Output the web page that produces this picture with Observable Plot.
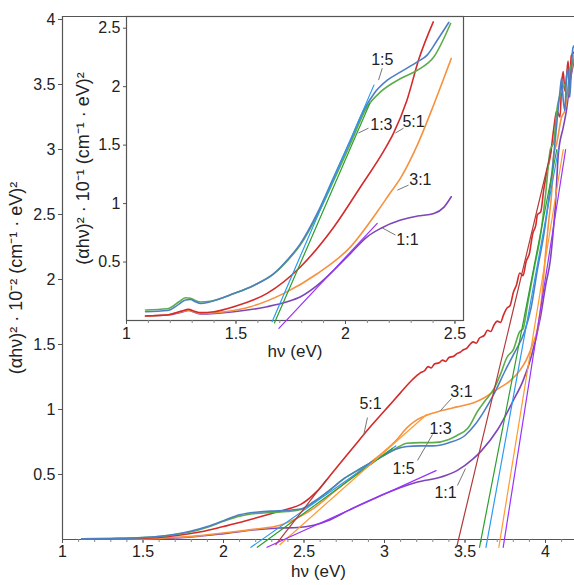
<!DOCTYPE html>
<html><head><meta charset="utf-8">
<script src="https://cdn.jsdelivr.net/npm/d3@7"></script>
<script src="https://cdn.jsdelivr.net/npm/@observablehq/plot@0.6"></script>
<style>
body{margin:0;background:#fff;}
#wrap{position:relative;width:574px;height:585px;overflow:hidden;}
#wrap svg{position:absolute;left:0;top:0;}
</style></head><body><div id="wrap"></div>
<script>
// ---------- Series names / colours ----------
const seriesNames = ["1:1", "3:1", "5:1", "1:3", "1:5"];
const curveColors = {"1:1": "#7d45b8", "3:1": "#f7913d", "5:1": "#d42a2a", "1:3": "#5cad4a", "1:5": "#4d7fc4"};
const fitColors   = {"1:1": "#9b30ff", "3:1": "#ff9a2e", "5:1": "#b33a3a", "1:3": "#2e9e2e", "1:5": "#2b9bf0"};

// ---------- Main chart: (αhν)^2 ·10^-2 vs hν ----------
const main_11 = [[1.12,0.002],[1.5,0.005],[1.8,0.02],[2.0,0.045],[2.2,0.075],[2.35,0.088],[2.46,0.092],[2.56,0.11],[2.66,0.15],[2.77,0.22],[2.89,0.29],[2.98,0.34],[3.1,0.4],[3.2,0.44],[3.35,0.48],[3.45,0.53],[3.55,0.62],[3.6,0.68],[3.7,0.84],[3.8,1.07],[3.86,1.22],[3.91,1.4],[3.97,1.72],[4.0,1.95],[4.03,2.15],[4.05,2.4],[4.06,2.55],[4.08,2.97],[4.11,3.17],[4.13,3.3],[4.15,3.5],[4.18,3.7]];
const main_31 = [[1.12,0.002],[1.5,0.005],[1.7,0.015],[1.86,0.03],[2.0,0.05],[2.2,0.08],[2.35,0.11],[2.48,0.18],[2.56,0.24],[2.68,0.36],[2.77,0.45],[2.89,0.57],[3.0,0.68],[3.07,0.76],[3.14,0.86],[3.2,0.92],[3.27,0.96],[3.35,0.99],[3.45,1.02],[3.55,1.05],[3.62,1.09],[3.68,1.14],[3.72,1.17],[3.78,1.22],[3.84,1.3],[3.88,1.38],[3.92,1.5],[3.95,1.62],[3.98,1.9],[4.0,2.2],[4.02,2.45],[4.04,2.7],[4.05,2.95],[4.07,3.05],[4.1,3.25],[4.12,3.3],[4.14,3.45],[4.16,3.6],[4.18,3.75]];
const main_51 = [[1.12,0.003],[1.3,0.005],[1.5,0.01],[1.7,0.03],[1.86,0.06],[2.0,0.1],[2.1,0.13],[2.2,0.165],[2.3,0.2],[2.4,0.235],[2.48,0.27],[2.58,0.37],[2.68,0.52],[2.8,0.7],[2.9,0.85],[3.0,0.99],[3.05,1.06],[3.1,1.13],[3.15,1.2],[3.2,1.26],[3.22,1.28],[3.25,1.3],[3.27,1.33],[3.29,1.32],[3.31,1.35],[3.34,1.36],[3.36,1.38],[3.38,1.37],[3.4,1.4],[3.43,1.41],[3.45,1.43],[3.47,1.44],[3.49,1.46],[3.51,1.47],[3.53,1.5],[3.55,1.52],[3.57,1.51],[3.59,1.55],[3.62,1.57],[3.64,1.61],[3.66,1.6],[3.68,1.65],[3.7,1.68],[3.72,1.67],[3.74,1.73],[3.76,1.78],[3.78,1.8],[3.8,1.9],[3.82,1.96],[3.84,2.05],[3.86,2.03],[3.88,2.14],[3.9,2.2],[3.92,2.35],[3.94,2.42],[3.95,2.5],[3.97,2.52],[3.99,2.7],[4.01,2.84],[4.03,2.95],[4.05,3.15],[4.07,3.3],[4.09,3.25],[4.1,3.5],[4.11,3.6],[4.12,3.45],[4.13,3.55],[4.14,3.68],[4.15,3.5],[4.16,3.72],[4.18,3.75]];
const main_13 = [[1.12,0.006],[1.3,0.008],[1.5,0.015],[1.7,0.038],[1.8,0.06],[1.9,0.095],[2.0,0.14],[2.1,0.18],[2.2,0.2],[2.3,0.208],[2.4,0.215],[2.48,0.23],[2.56,0.285],[2.66,0.38],[2.75,0.47],[2.83,0.53],[2.9,0.58],[3.0,0.65],[3.07,0.7],[3.14,0.74],[3.22,0.745],[3.3,0.745],[3.4,0.77],[3.45,0.8],[3.52,0.86],[3.58,0.99],[3.62,1.06],[3.68,1.16],[3.72,1.27],[3.76,1.4],[3.8,1.46],[3.84,1.6],[3.86,1.62],[3.89,1.82],[3.93,2.09],[3.97,2.35],[4.0,2.65],[4.03,3.0],[4.05,3.05],[4.07,3.3],[4.1,3.45],[4.12,3.5],[4.13,3.4],[4.15,3.6],[4.18,3.7]];
const main_15 = [[1.12,0.005],[1.3,0.008],[1.5,0.015],[1.7,0.04],[1.8,0.065],[1.9,0.1],[2.0,0.145],[2.1,0.19],[2.2,0.21],[2.3,0.218],[2.4,0.225],[2.48,0.235],[2.56,0.29],[2.66,0.38],[2.75,0.47],[2.83,0.53],[2.9,0.58],[3.0,0.65],[3.07,0.695],[3.14,0.715],[3.22,0.72],[3.3,0.72],[3.4,0.745],[3.5,0.8],[3.56,0.88],[3.62,0.99],[3.68,1.12],[3.75,1.3],[3.8,1.42],[3.87,1.6],[3.91,1.78],[3.95,2.08],[3.99,2.35],[4.02,2.62],[4.05,2.94],[4.07,3.2],[4.09,3.45],[4.1,3.55],[4.11,3.38],[4.12,3.3],[4.13,3.55],[4.14,3.62],[4.15,3.4],[4.16,3.6],[4.17,3.78],[4.18,3.8]];

// tangent (fit) lines, main chart: steep edge and low-energy edge
const mainFitHigh = {"5:1": [[3.45,-0.05],[4.037,3.0]], "1:3": [[3.59,-0.06],[4.07,3.0]], "1:5": [[3.63,-0.06],[4.08,3.0]], "3:1": [[3.71,-0.06],[4.11,3.0]], "1:1": [[3.737,-0.06],[4.125,3.0]]};
const mainFitLow  = {"1:5": [[2.17,-0.06],[3.07,0.72]], "1:3": [[2.21,-0.06],[3.05,0.7]], "5:1": [[2.325,-0.04],[2.64,0.46]], "3:1": [[2.35,-0.04],[3.26,0.96]], "1:1": [[2.27,-0.06],[3.32,0.53]]};

// main-chart annotations (data coordinates)
const mainLabelText = ["5:1", "3:1", "1:3", "1:5", "1:1"];
const mainLabelX = [2.913, 3.478, 3.348, 3.118, 3.379];
const mainLabelY = [1.046, 1.138, 0.854, 0.546, 0.362];
const mainLeaders = [[2.894,0.938,2.870,0.80],[3.416,1.085,3.348,0.992],[3.298,0.808,3.205,0.608],[3.453,0.415,3.503,0.546]];

const mainXTicks = [1, 1.5, 2, 2.5, 3, 3.5, 4];
const mainXMinor = d3.range(10, 42).map(d => d / 10);
const mainYTicks = [0.5, 1, 1.5, 2, 2.5, 3, 3.5, 4];
const mainXDomain = [1, 4.18];
const mainYDomain = [0, 4.023];
const mainXLabel = "hν (eV)";
const mainYLabel = "(αhν)² · 10⁻² (cm⁻¹ · eV)²";

// ---------- Inset: (αhν)^2 ·10^-1 vs hν ----------
const inset_11 = [[1.087,0.038],[1.186,0.047],[1.25,0.07],[1.284,0.085],[1.31,0.07],[1.338,0.055],[1.49,0.075],[1.642,0.118],[1.734,0.16],[1.795,0.203],[1.871,0.30],[1.947,0.43],[2.023,0.574],[2.099,0.716],[2.16,0.787],[2.252,0.859],[2.328,0.893],[2.404,0.916],[2.45,0.97],[2.483,1.058]];
const inset_31 = [[1.087,0.038],[1.186,0.047],[1.25,0.075],[1.284,0.088],[1.31,0.075],[1.338,0.06],[1.45,0.075],[1.566,0.118],[1.719,0.232],[1.871,0.40],[2.023,0.63],[2.145,0.93],[2.2,1.08],[2.252,1.22],[2.328,1.5],[2.404,1.85],[2.483,2.24]];
const inset_51 = [[1.087,0.038],[1.186,0.047],[1.25,0.08],[1.284,0.095],[1.31,0.08],[1.338,0.067],[1.4,0.075],[1.49,0.118],[1.642,0.232],[1.795,0.46],[1.947,0.80],[2.069,1.144],[2.175,1.45],[2.219,1.6],[2.28,1.88],[2.336,2.24],[2.401,2.554]];
const inset_13 = [[1.087,0.09],[1.186,0.1],[1.24,0.16],[1.269,0.195],[1.292,0.19],[1.315,0.17],[1.338,0.158],[1.383,0.165],[1.49,0.23],[1.581,0.3],[1.673,0.40],[1.734,0.51],[1.795,0.65],[1.871,0.9],[1.947,1.2],[2.023,1.514],[2.099,1.827],[2.16,1.955],[2.252,2.07],[2.328,2.14],[2.404,2.255],[2.48,2.54]];
const inset_15 = [[1.087,0.075],[1.186,0.085],[1.24,0.14],[1.269,0.175],[1.292,0.18],[1.315,0.16],[1.338,0.146],[1.383,0.16],[1.49,0.23],[1.581,0.3],[1.673,0.40],[1.734,0.517],[1.795,0.66],[1.871,0.916],[1.947,1.229],[2.023,1.542],[2.084,1.799],[2.13,1.94],[2.191,2.055],[2.252,2.126],[2.328,2.212],[2.373,2.27],[2.419,2.397],[2.472,2.55]];
const insetFit = {"1:5": [[1.665,-0.01],[2.13,2.013]], "1:3": [[1.676,-0.02],[2.111,1.856]], "1:1": [[1.696,-0.067],[2.145,0.83]]};

const insetLabelText = ["1:5", "1:3", "5:1", "3:1", "1:1"];
const insetLabelX = [2.168, 2.164, 2.311, 2.342, 2.283];
const insetLabelY = [2.226, 1.671, 1.697, 1.2, 0.688];
const insetLeaders = [[2.168,2.158,2.151,2.056],[2.105,1.645,2.059,1.603],[2.265,1.645,2.228,1.603],[2.288,1.158,2.237,1.115],[2.228,0.731,2.169,0.791]];

const insetXTicks = [1, 1.5, 2, 2.5];
const insetXMinor = d3.range(10, 26).map(d => d / 10);
const insetYTicks = [0.5, 1, 1.5, 2, 2.5];
const insetXDomain = [1, 2.539];
const insetYDomain = [0, 2.6];
const insetXLabel = "hν (eV)";
const insetYLabel = "(αhν)² · 10⁻¹ (cm⁻¹ · eV)²";

// ---------- helpers ----------
const rows = (pts, s) => pts.map(([x, y]) => ({x, y, s}));
const mainCurves = [
  ...rows(main_11, "1:1"), ...rows(main_31, "3:1"), ...rows(main_51, "5:1"),
  ...rows(main_13, "1:3"), ...rows(main_15, "1:5")];
const insetCurves = [
  ...rows(inset_11, "1:1"), ...rows(inset_31, "3:1"), ...rows(inset_51, "5:1"),
  ...rows(inset_13, "1:3"), ...rows(inset_15, "1:5")];
const labelRows = (t, xs, ys) => t.map((text, i) => ({text, x: xs[i], y: ys[i]}));
const leaderRows = arr => arr.map(([x1, y1, x2, y2]) => ({x1, y1, x2, y2}));

const font = "'Liberation Sans', Arial, Helvetica, sans-serif";
const axisColor = "#555";
const drawOrder = ["1:1", "3:1", "5:1", "1:3", "1:5"];

function curveMarks(data, width) {
  return drawOrder.map(s => Plot.line(data.filter(d => d.s === s),
    {x: "x", y: "y", stroke: curveColors[s], strokeWidth: width, curve: "monotone-x"}));
}
function fitMarks(obj) {
  return Object.keys(obj).map(s => Plot.line(rows(obj[s], s),
    {x: "x", y: "y", stroke: fitColors[s], strokeWidth: 1.2}));
}

const mainPlot = Plot.plot({
  width: 574, height: 585,
  marginLeft: 62, marginRight: 0, marginTop: 16, marginBottom: 46,
  x: {domain: mainXDomain},
  y: {domain: mainYDomain},
  style: {fontFamily: font, fontSize: "16px", color: "#222", background: "transparent", overflow: "visible"},
  marks: [
    Plot.ruleX([mainXDomain[0]], {stroke: axisColor, strokeWidth: 1.2}),
    Plot.ruleY([mainYDomain[0]], {stroke: axisColor, strokeWidth: 1.2}),
    Plot.ruleY([mainYDomain[1]], {stroke: axisColor, strokeWidth: 1.2}),
    Plot.axisX({ticks: mainXMinor, tickSize: 3, tickFormat: () => "", label: null, stroke: "#888"}),
    Plot.axisX({ticks: mainXTicks, tickSize: 4, tickPadding: 2, tickFormat: d => String(d), stroke: axisColor, label: null, fontSize: 16}),
    Plot.axisY({ticks: mainYTicks, tickSize: 4, tickPadding: 3, tickFormat: d => String(d), stroke: axisColor, label: null, fontSize: 16}),
    Plot.text([mainXLabel], {text: d => d, frameAnchor: "bottom", textAnchor: "middle", dy: 37, fontSize: 17, fill: "#222"}),
    Plot.text([mainYLabel], {text: d => d, frameAnchor: "left", textAnchor: "middle", rotate: -90, dx: -46, fontSize: 18, fill: "#222"}),
    ...curveMarks(mainCurves, 1.6),
    ...fitMarks(mainFitLow),
    ...fitMarks(mainFitHigh),
    Plot.link(leaderRows(mainLeaders), {x1: "x1", y1: "y1", x2: "x2", y2: "y2", stroke: "#777", strokeWidth: 1}),
    Plot.text(labelRows(mainLabelText, mainLabelX, mainLabelY), {x: "x", y: "y", text: "text", fontSize: 16, fill: "#222"})
  ]
});

const insetPlot = Plot.plot({
  width: 470, height: 370,
  marginLeft: 126, marginRight: 7, marginTop: 16, marginBottom: 50,
  x: {domain: insetXDomain},
  y: {domain: insetYDomain},
  style: {fontFamily: font, fontSize: "16px", color: "#222", background: "transparent", overflow: "visible"},
  marks: [
    Plot.frame({fill: "white", stroke: axisColor, strokeWidth: 1.2}),
    Plot.axisX({ticks: insetXMinor, tickSize: 3, tickFormat: () => "", label: null, stroke: "#888"}),
    Plot.axisX({ticks: insetXTicks, tickSize: 4, tickPadding: 3, tickFormat: d => String(d), stroke: axisColor, label: null, fontSize: 16}),
    Plot.axisY({ticks: insetYTicks, tickSize: 3, tickPadding: 3, tickFormat: d => String(d), stroke: axisColor, label: null, fontSize: 16}),
    Plot.text([insetXLabel], {text: d => d, frameAnchor: "bottom", textAnchor: "middle", dy: 36, fontSize: 17, fill: "#222"}),
    Plot.text([insetYLabel], {text: d => d, frameAnchor: "left", textAnchor: "middle", rotate: -90, dx: -43, fontSize: 18, fill: "#222"}),
    ...curveMarks(insetCurves, 1.6),
    ...fitMarks(insetFit),
    Plot.link(leaderRows(insetLeaders), {x1: "x1", y1: "y1", x2: "x2", y2: "y2", stroke: "#777", strokeWidth: 1}),
    Plot.text(labelRows(insetLabelText, insetLabelX, insetLabelY), {x: "x", y: "y", text: "text", fontSize: 16, fill: "#222"})
  ]
});

const wrap = document.getElementById("wrap");
wrap.appendChild(mainPlot);
wrap.appendChild(insetPlot);
</script></body></html>
